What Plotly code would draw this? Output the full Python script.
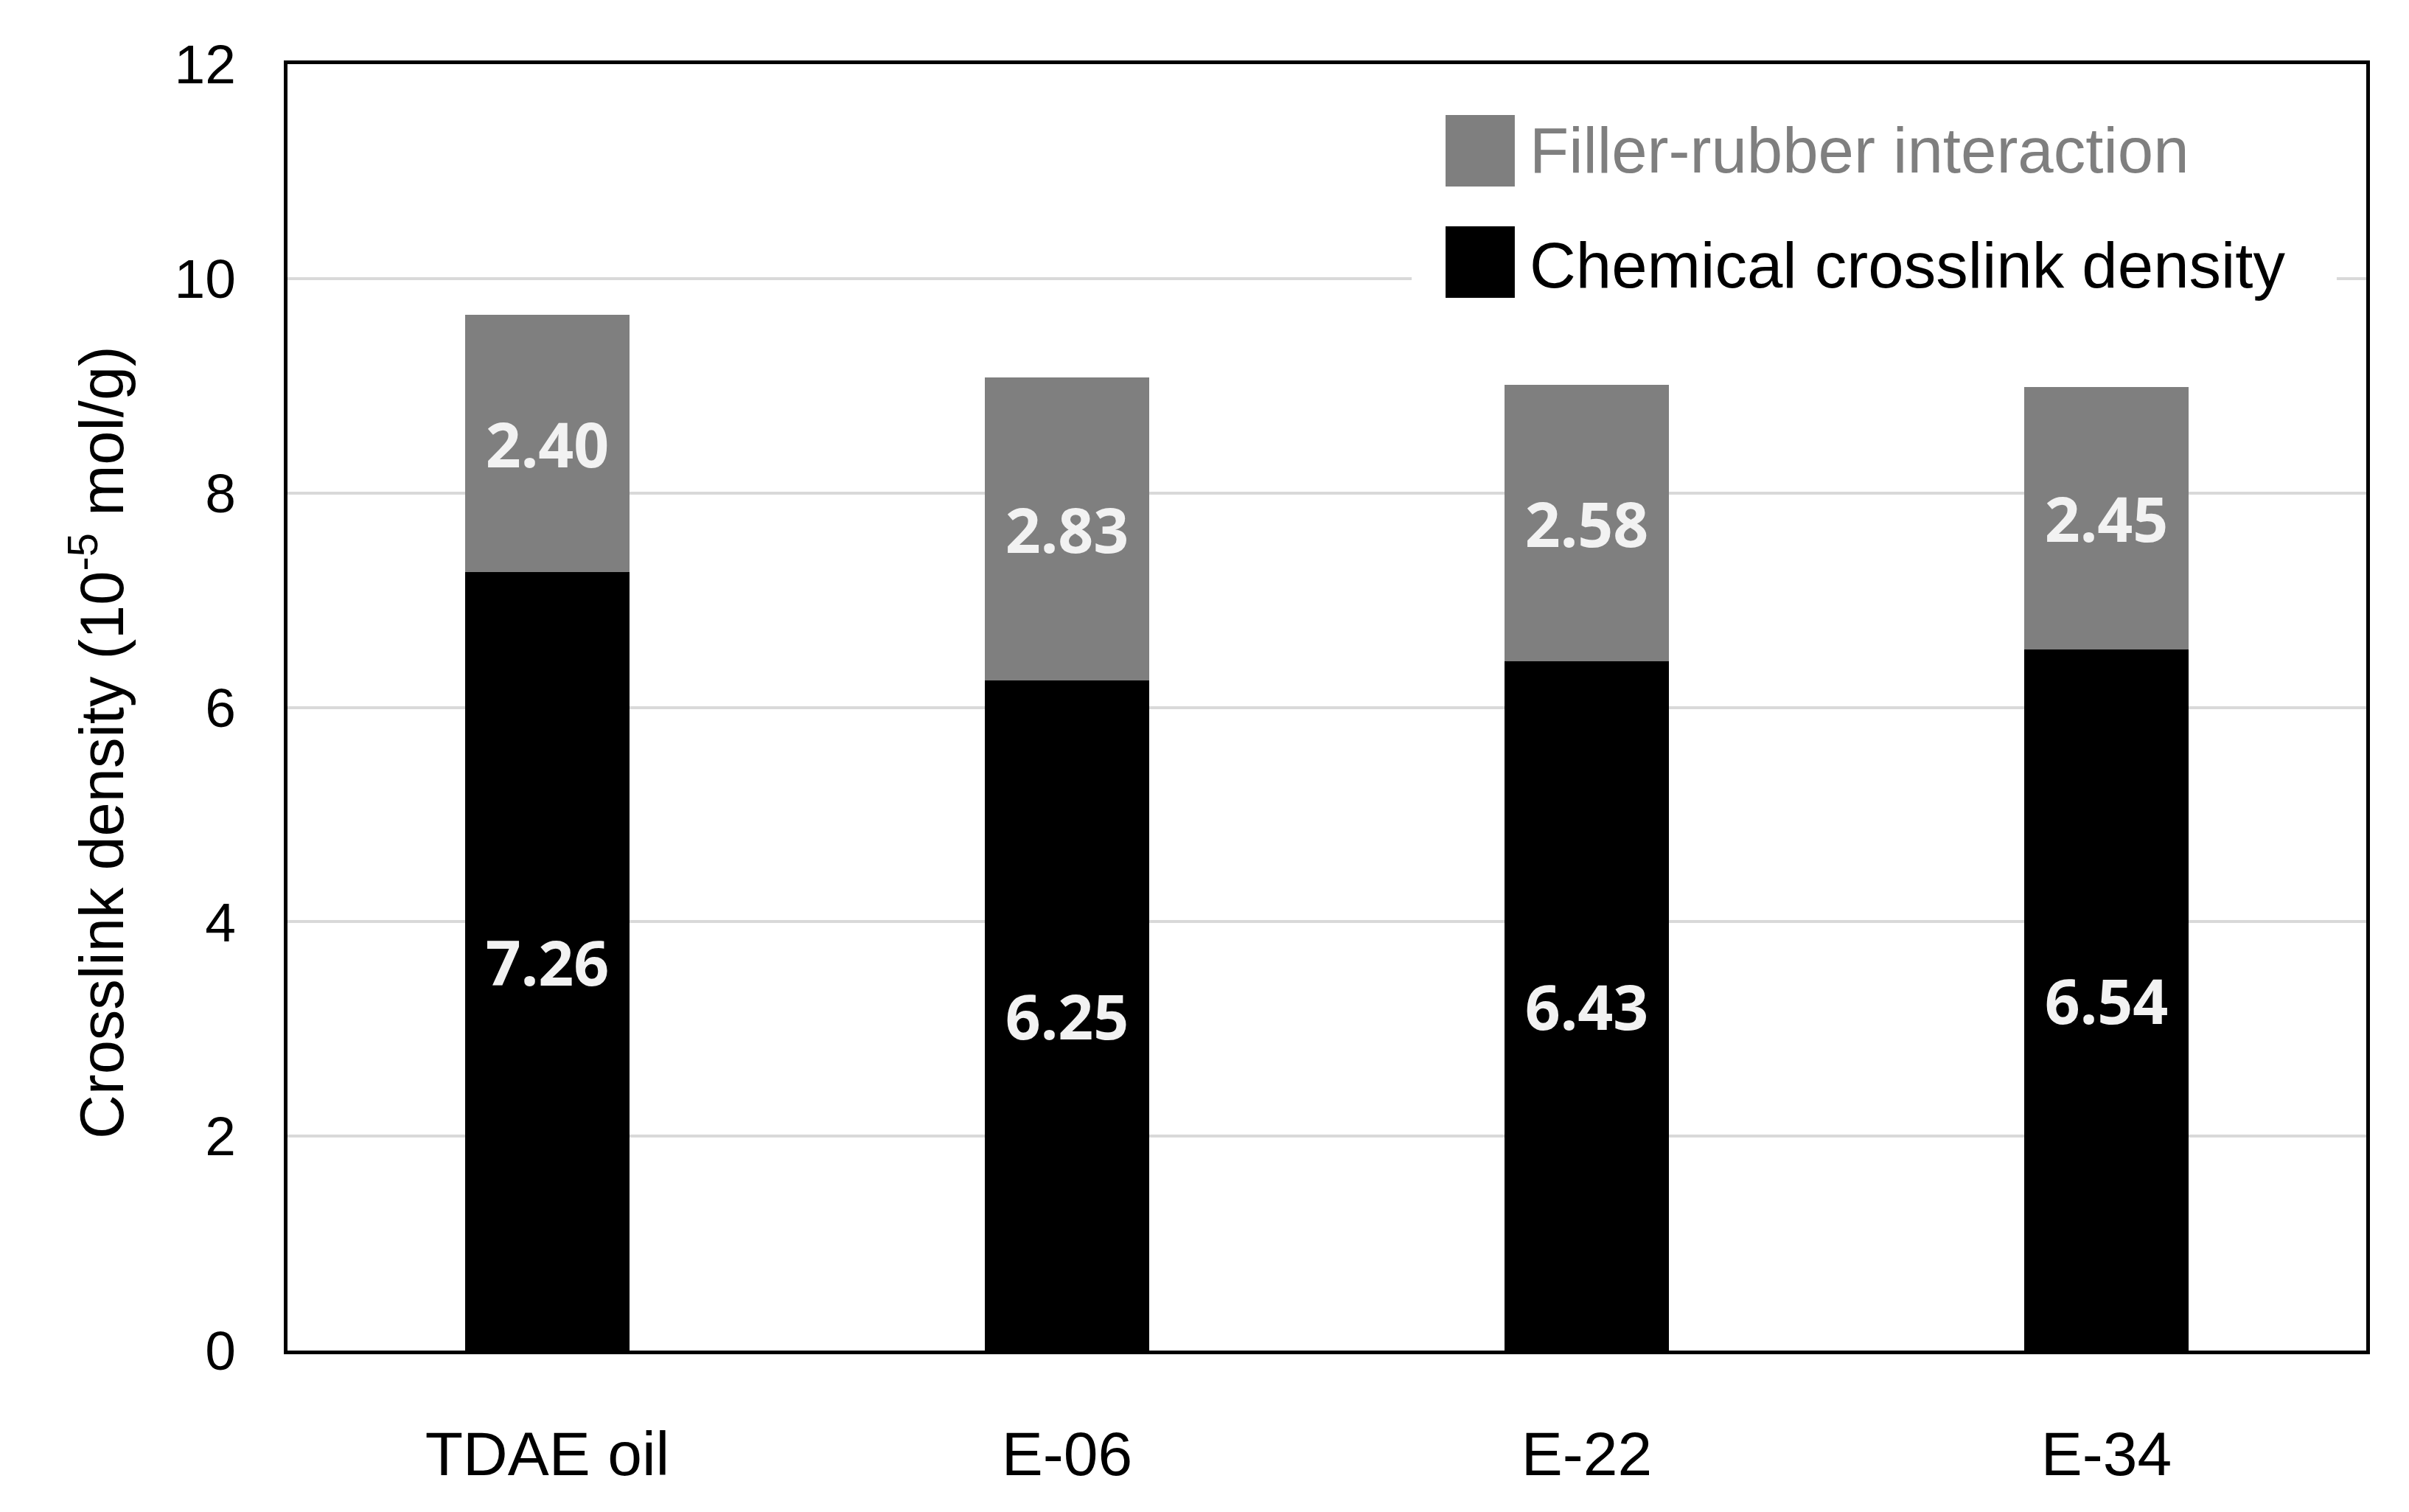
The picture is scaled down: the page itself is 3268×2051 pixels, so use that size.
import plotly.graph_objects as go

categories = ["TDAE oil", "E-06", "E-22", "E-34"]
chemical = [7.26, 6.25, 6.43, 6.54]
filler = [2.40, 2.83, 2.58, 2.45]
series_names = ["Chemical crosslink density", "Filler-rubber interaction"]
y_ticks = [0, 2, 4, 6, 8, 10, 12]
y_title = "Crosslink density (10<sup>-5</sup> mol/g)"

BLACK = "#000000"
GRAY = "#7f7f7f"
LABEL = "#f2f2f2"
BASE_FONT = "Liberation Sans, Arial, sans-serif"
LABEL_FONT = "Noto Sans, Open Sans, sans-serif"

fig = go.Figure()
fig.add_trace(go.Bar(
    x=categories, y=chemical, name=series_names[0],
    marker=dict(color=BLACK, line=dict(width=0)),
    text=[f"{v:.2f}" for v in chemical], textposition="inside",
    insidetextanchor="middle",
    textfont=dict(family=LABEL_FONT, size=84, color=LABEL, weight="bold"),
    showlegend=False,
))
fig.add_trace(go.Bar(
    x=categories, y=filler, name=series_names[1],
    marker=dict(color=GRAY, line=dict(width=0)),
    text=[f"{v:.2f}" for v in filler], textposition="inside",
    insidetextanchor="middle",
    textfont=dict(family=LABEL_FONT, size=84, color=LABEL, weight="bold"),
    showlegend=False,
))

# custom legend (large swatches)
shapes = [
    dict(type="rect", xref="paper", yref="paper", x0=0.5408, x1=0.9858, y0=0.80, y1=0.99,
         fillcolor="white", line=dict(width=0), layer="above"),
    dict(type="rect", xref="paper", yref="paper", x0=0.5571, x1=0.5904, y0=0.9049, y1=0.9605,
         fillcolor=GRAY, line=dict(width=0), layer="above"),
    dict(type="rect", xref="paper", yref="paper", x0=0.5571, x1=0.5904, y0=0.8183, y1=0.8739,
         fillcolor=BLACK, line=dict(width=0), layer="above"),
]
annotations = [
    dict(text=series_names[1], xref="paper", yref="paper", x=0.5968, y=0.9335,
         xanchor="left", yanchor="middle", showarrow=False,
         font=dict(family=BASE_FONT, size=87, color=GRAY)),
    dict(text=series_names[0], xref="paper", yref="paper", x=0.5968, y=0.8436,
         xanchor="left", yanchor="middle", showarrow=False,
         font=dict(family=BASE_FONT, size=87, color=BLACK)),
    dict(text=y_title, xref="paper", yref="paper", x=-0.0915, y=0.4728,
         xanchor="center", yanchor="middle", showarrow=False, textangle=-90,
         font=dict(family=BASE_FONT, size=83, color=BLACK)),
]

fig.update_layout(
    barmode="stack",
    bargap=0.684,
    width=3268, height=2051,
    margin=dict(l=382, r=66, t=79, b=227),
    paper_bgcolor="white", plot_bgcolor="white",
    font=dict(family=BASE_FONT, size=80, color="black"),
    shapes=shapes, annotations=annotations,
    showlegend=False,
)
fig.update_xaxes(
    showline=True, linecolor="black", linewidth=5, mirror=True,
    showgrid=False, ticks="", ticklabelstandoff=63,
    tickfont=dict(family=BASE_FONT, size=84, color="black"),
)
fig.update_yaxes(
    range=[0, 12], tickvals=y_ticks,
    showline=True, linecolor="black", linewidth=5, mirror=True,
    showgrid=True, gridcolor="#d9d9d9", gridwidth=4,
    zeroline=False, ticks="", ticklabelstandoff=50,
    tickfont=dict(family=BASE_FONT, size=75, color="black"),
)

fig.write_html("out.html")
